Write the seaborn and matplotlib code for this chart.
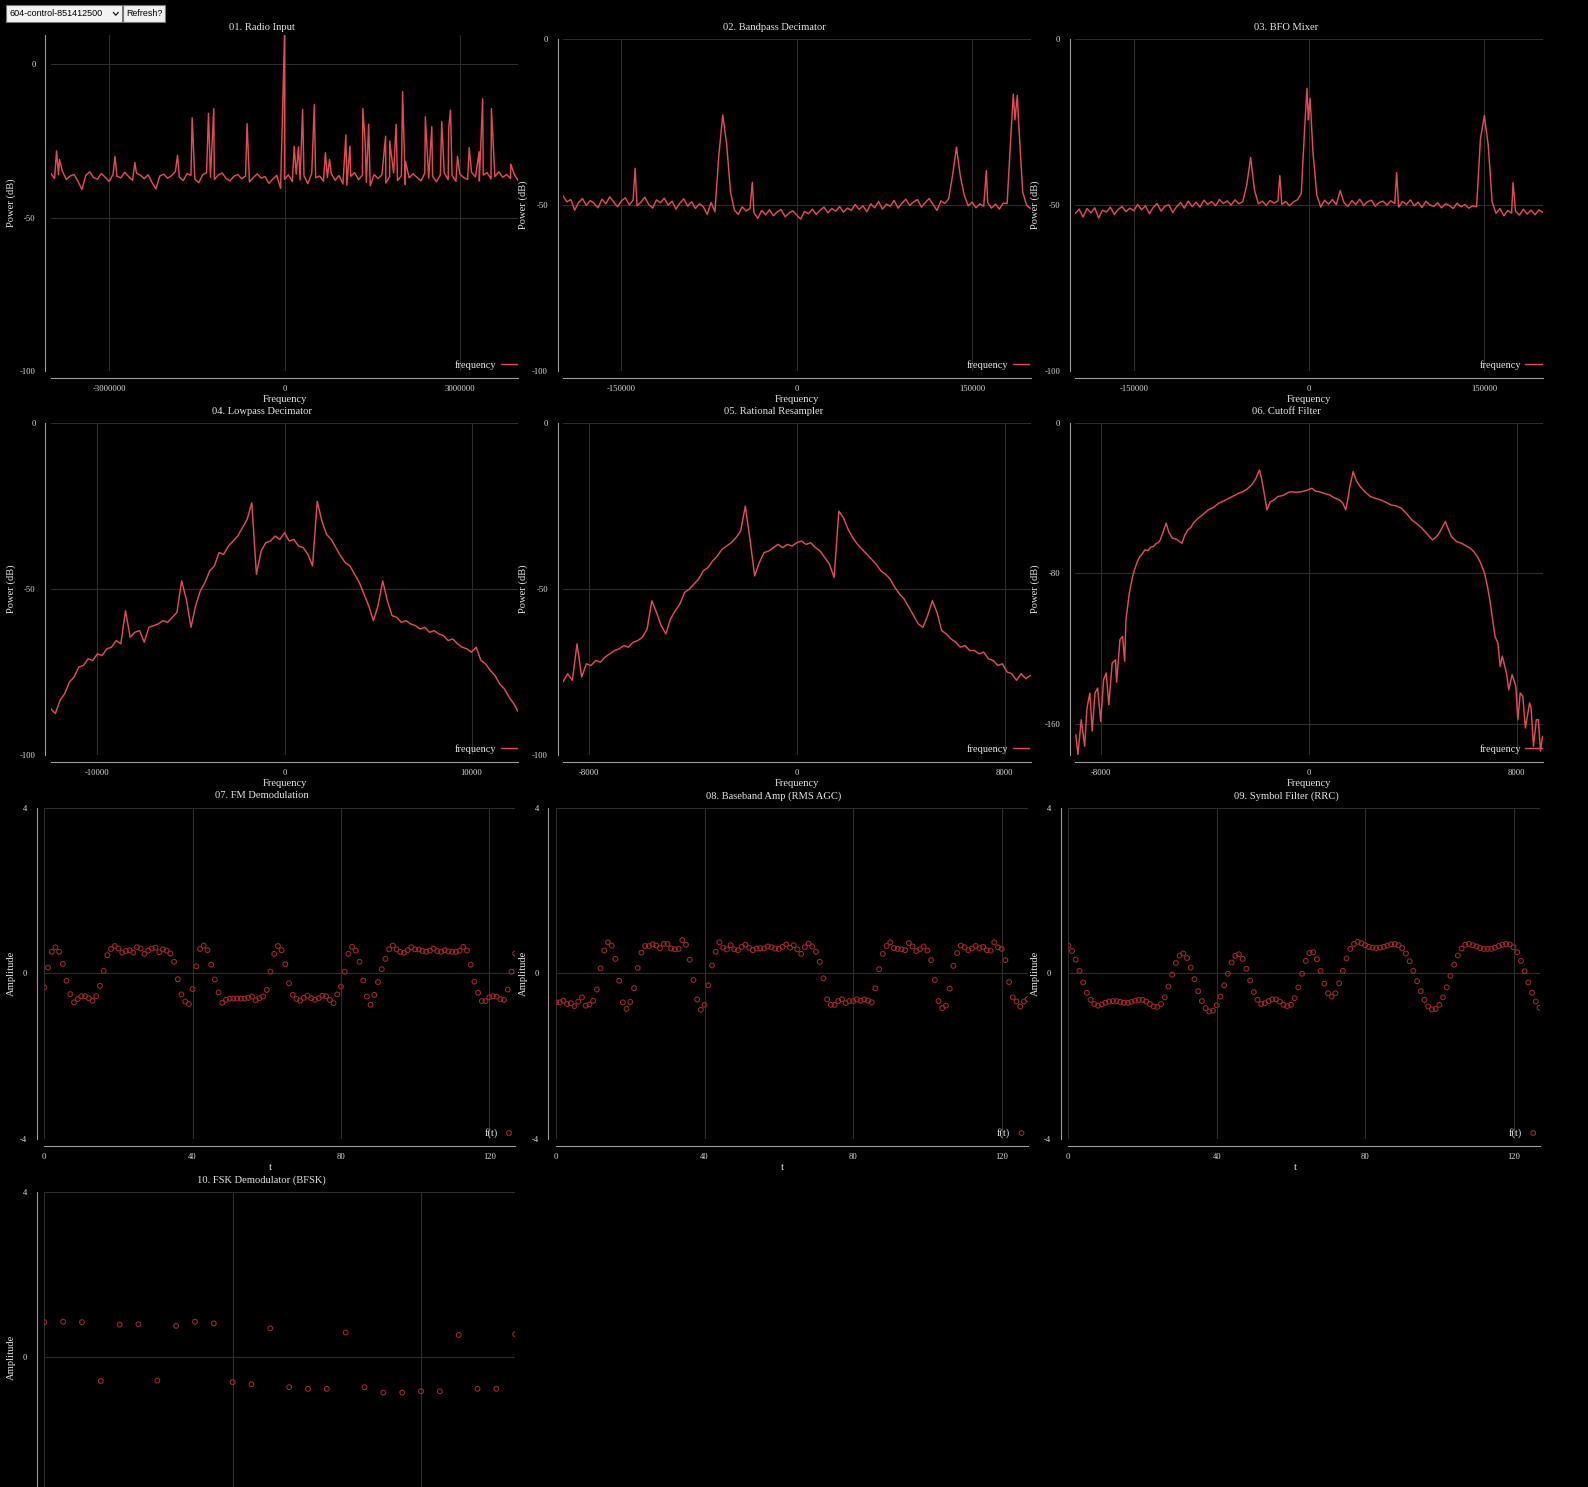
import numpy as np
import pandas as pd
import matplotlib
matplotlib.use("Agg")
import matplotlib.pyplot as plt
import seaborn as sns
from matplotlib.ticker import MultipleLocator, FuncFormatter, NullFormatter
from matplotlib.patches import Rectangle
from matplotlib.lines import Line2D

# ---------------- data ----------------
# 01. Radio Input: noise floor on an even grid over +-4 MHz, plus the narrow carriers
radio_floor = [
    -35.5, -37.2, -36.0, -34.8, -37.5, -36.4, -35.9, -38.1, -40.8, -36.2,
    -35.0, -36.9, -37.4, -35.6, -36.8, -38.2, -35.9, -36.5, -37.0, -35.2,
    -36.6, -37.8, -35.4, -36.1, -37.3, -36.0, -38.5, -40.6, -36.4, -35.8,
    -37.1, -36.3, -34.9, -36.7, -37.9, -35.6, -36.2, -37.4, -38.6, -36.0,
    -35.3, -36.8, -37.5, -36.1, -35.4, -37.2, -38.0, -36.5, -35.9, -37.3,
    -36.4, -38.3, -36.9, -35.7, -37.1, -36.6, -38.8, -37.4, -36.2, -40.4,
    -37.5, -36.0, -38.2, -35.8, -37.7, -36.3, -38.9, -35.5, -37.0, -36.4,
    -38.1, -36.9, -35.6, -37.8, -36.2, -39.0, -39.4, -36.5, -35.3, -37.6,
    -36.1, -38.4, -39.6, -35.9, -37.2, -36.0, -38.7, -36.6, -35.4, -37.9,
    -36.3, -39.2, -37.0, -35.7, -36.8, -38.0, -35.5, -37.1, -36.4, -38.3,
    -36.0, -35.4, -37.6, -36.2, -38.1, -35.8, -36.9, -37.5, -35.2, -36.7,
    -38.0, -36.1, -35.3, -37.4, -36.6, -35.0, -36.8, -35.9, -37.2, -36.0, -38.0,
]
radio_spike_freq = [
    -3.90e6, -3.85e6, -2.90e6, -2.56e6, -1.83e6, -1.58e6, -1.30e6, -1.21e6, -0.64e6, 0.0,
    0.166e6, 0.24e6, 0.31e6, 0.51e6, 0.70e6, 0.77e6, 1.05e6, 1.12e6, 1.34e6, 1.38e6,
    1.44e6, 1.73e6, 1.80e6, 1.91e6, 2.02e6, 2.07e6, 2.41e6, 2.52e6, 2.69e6, 2.81e6,
    2.84e6, 2.96e6, 3.16e6, 3.33e6, 3.39e6, 3.54e6, 3.87e6,
]
radio_spike_db = [
    -28.2, -31.0, -30.0, -32.0, -29.6, -17.4, -16.0, -14.4, -19.3, 9.6,
    -26.7, -26.9, -14.7, -13.1, -28.8, -31.0, -23.0, -26.7, -14.4, -25.2,
    -19.5, -23.4, -25.0, -19.5, -8.9, -31.7, -17.1, -20.3, -18.7, -20.7,
    -14.9, -30.0, -27.2, -28.5, -11.2, -14.4, -32.5,
]

# 02. Bandpass Decimator (+-200 kHz)
bandpass_floor = [
    -47.2, -49.0, -48.3, -51.5, -49.2, -48.0, -50.1, -48.6, -49.5, -50.8,
    -48.2, -49.6, -47.5, -49.0, -50.5, -48.7, -47.8, -49.9, -48.5, -50.2,
    -49.1, -47.6, -49.8, -50.9, -48.4, -49.3, -47.9, -50.0, -48.8, -51.2,
    -49.4, -48.1, -50.3, -49.0, -51.0, -49.6, -50.4, -52.8, -49.2, -52.0,
    -35.0, -22.8, -31.5, -46.0, -51.5, -52.8, -50.5, -51.8, -51.0, -52.2,
    -54.0, -51.6, -52.9, -51.4, -53.2, -52.0, -51.3, -53.5, -52.4, -51.7,
    -53.0, -54.2, -51.9, -52.6, -51.2, -52.8, -51.5, -50.6, -52.3, -51.0,
    -51.8, -50.4, -52.1, -50.9, -51.6, -49.8, -51.3, -50.2, -52.0, -49.6,
    -50.8, -48.9, -51.2, -49.7, -50.3, -48.6, -50.9, -49.4, -48.2, -50.1,
    -49.0, -48.3, -50.6, -49.2, -48.0, -49.8, -51.6, -48.7, -49.5, -48.1,
    -41.0, -32.5, -41.4, -47.0, -50.2, -49.1, -50.8, -49.6, -50.3, -49.2,
    -50.9, -49.7, -51.2, -49.4, -49.5, -28.3, -24.3, -26.0, -46.0, -50.0, -51.0,
]
bandpass_spike_freq = [-138300, -38000, 162200, 185300, 188700]
bandpass_spike_db = [-38.9, -43.1, -39.6, -16.5, -16.9]

# 03. BFO Mixer (+-200 kHz)
bfo_floor = [
    -52.5, -51.2, -53.6, -51.0, -52.3, -50.8, -53.9, -51.5, -52.1, -50.6,
    -52.8, -51.3, -50.4, -52.0, -50.9, -51.7, -49.8, -51.4, -50.2, -52.6,
    -50.7, -49.5, -51.8, -50.3, -49.9, -52.2, -50.5, -49.2, -50.9, -48.8,
    -50.4, -49.1, -50.6, -48.5, -49.8, -48.9, -50.2, -48.3, -49.5, -48.7,
    -50.0, -48.4, -49.6, -48.9, -44.0, -35.6, -45.5, -49.6, -48.8, -50.1,
    -48.6, -49.4, -48.7, -49.8, -48.9, -50.2, -49.0, -48.4, -46.5, -24.0,
    -21.0, -34.0, -47.0, -50.6, -48.5, -49.7, -48.3, -49.9, -45.6, -49.3,
    -50.4, -48.6, -49.8, -48.2, -50.1, -49.0, -48.5, -50.3, -49.2, -48.8,
    -50.0, -48.7, -49.5, -50.6, -48.9, -49.8, -48.4, -50.2, -49.1, -50.7,
    -48.8, -49.9, -50.4, -49.3, -50.8, -49.6, -50.1, -51.0, -49.4, -50.5,
    -49.8, -50.9, -50.2, -50.5, -30.0, -23.0, -32.0, -49.0, -52.5, -51.0,
    -53.2, -51.6, -52.4, -51.8, -53.0, -51.2, -52.7, -51.5, -52.9, -51.4, -52.2,
]
bfo_spike_freq = [-25000, -1800, -600, 900, 74900, 174500]
bfo_spike_db = [-41.1, -14.8, -24.3, -17.8, -40.2, -43.2]

# 04. Lowpass Decimator (+-12.5 kHz)
lowpass_db = [
    -86.0, -87.5, -83.5, -81.5, -78.0, -76.5, -73.5, -73.0, -71.0, -71.5,
    -69.5, -70.0, -68.0, -67.5, -65.5, -66.5, -56.5, -64.5, -63.0, -62.5,
    -66.0, -61.5, -61.0, -60.5, -59.5, -60.0, -58.5, -57.0, -47.5, -53.0,
    -61.5, -55.0, -50.5, -48.0, -44.5, -43.0, -39.0, -39.5, -37.0, -35.5,
    -34.0, -31.5, -29.0, -24.0, -45.5, -38.5, -36.0, -35.5, -34.0, -35.0,
    -33.0, -35.5, -35.0, -37.0, -37.5, -39.5, -43.0, -23.5, -29.5, -33.5,
    -35.0, -37.5, -40.0, -42.0, -43.0, -45.5, -48.0, -51.5, -55.0, -59.5,
    -55.0, -47.5, -53.5, -58.0, -58.5, -60.0, -59.5, -60.5, -61.0, -62.0,
    -61.5, -63.0, -62.5, -63.5, -64.0, -65.5, -65.0, -66.5, -67.5, -68.0,
    -69.0, -67.5, -71.5, -72.5, -74.5, -76.0, -78.5, -80.0, -82.5, -84.5,
    -87.0,
]

# 05. Rational Resampler (+-9 kHz)
resampler_db = [
    -78.0, -75.5, -77.5, -66.5, -76.5, -72.5, -73.0, -71.5, -72.0, -70.5,
    -69.5, -68.5, -68.0, -67.0, -67.5, -66.0, -65.5, -64.5, -62.0, -53.5,
    -57.0, -61.0, -63.5, -59.0, -56.5, -54.5, -51.0, -50.0, -48.5, -47.0,
    -44.5, -43.5, -41.5, -40.0, -38.0, -37.0, -36.0, -34.5, -32.5, -25.0,
    -35.0, -46.0, -42.0, -39.0, -38.5, -37.5, -36.5, -37.5, -36.5, -37.0,
    -36.0, -35.5, -36.5, -36.0, -37.5, -38.5, -40.5, -42.5, -46.5, -26.5,
    -28.5, -32.0, -34.5, -36.5, -38.0, -39.5, -41.0, -42.5, -44.5, -45.5,
    -47.0, -49.5, -51.5, -53.0, -55.5, -58.0, -60.5, -61.5, -58.0, -53.5,
    -57.0, -62.5, -63.5, -65.0, -66.0, -67.5, -67.0, -68.5, -68.5, -69.5,
    -69.0, -71.0, -71.5, -73.0, -72.5, -75.0, -75.5, -77.5, -75.5, -77.0,
    -76.0,
]

# 06. Cutoff Filter (uneven frequency points, Hz)
cutoff_freq = [
    -8980, -8900, -8770, -8640, -8550, -8440, -8350, -8240, -8140, -8020,
    -7910, -7810, -7710, -7580, -7450, -7410, -7280, -7180, -7100, -7050,
    -6920, -6800, -6720, -6620, -6520, -6420, -6320, -6200, -6100, -5990,
    -5880, -5800, -5730, -5620, -5500, -5400, -5260, -5100, -4890, -4800,
    -4670, -4550, -4450, -4270, -4100, -3880, -3700, -3480, -3300, -3080,
    -2900, -2700, -2550, -2400, -2210, -2050, -1910, -1820, -1750, -1620,
    -1500, -1350, -1200, -1050, -950, -820, -690, -500, -290, -100,
    110, 250, 380, 550, 780, 950, 1170, 1300, 1410, 1500,
    1570, 1700, 1820, 1970, 2150, 2360, 2550, 2760, 2950, 3160,
    3350, 3550, 3750, 3950, 4150, 4350, 4550, 4750, 4900, 5010,
    5250, 5350, 5480, 5680, 5880, 6080, 6200, 6340, 6480, 6610,
    6750, 6870, 6970, 7070, 7160, 7270, 7360, 7440, 7600, 7690,
    7820, 7960, 8040, 8130, 8230, 8330, 8490, 8550, 8640, 8750,
    8830, 8910, 8990,
]
cutoff_db = [
    -165.9, -176.5, -157.9, -172.0, -151.7, -143.7, -164.0, -143.7, -141.0, -158.8,
    -136.6, -133.0, -150.0, -127.7, -126.0, -138.0, -115.3, -113.5, -126.8, -104.7,
    -90.5, -82.0, -78.0, -74.0, -71.0, -69.5, -67.4, -67.8, -66.0, -65.6,
    -64.0, -63.5, -62.1, -58.0, -53.2, -58.0, -61.2, -61.8, -63.9, -60.0,
    -56.8, -55.5, -53.0, -50.6, -48.8, -46.1, -45.0, -42.6, -41.5, -39.9,
    -38.6, -37.2, -36.4, -35.2, -32.8, -29.5, -24.8, -30.0, -35.5, -46.1,
    -42.0, -40.8, -39.0, -38.6, -38.1, -37.0, -36.4, -36.8, -36.4, -35.8,
    -34.6, -36.2, -36.4, -37.2, -38.1, -39.5, -40.8, -42.5, -46.1, -40.0,
    -33.7, -25.7, -30.5, -33.7, -36.5, -39.0, -40.0, -40.8, -42.0, -43.5,
    -44.0, -45.2, -48.0, -51.4, -53.5, -55.9, -59.0, -62.1, -60.5, -58.5,
    -52.3, -56.0, -60.3, -63.0, -64.0, -65.6, -66.5, -68.3, -71.0, -74.5,
    -79.5, -86.9, -95.0, -104.7, -113.5, -117.0, -129.5, -124.0, -133.0, -141.9,
    -133.9, -140.0, -157.9, -143.7, -145.4, -162.3, -149.0, -151.7, -172.0, -157.9,
    -157.9, -174.7, -166.7,
]

# 07-09: 128 samples each, 10: one value per symbol
fm_demod = [
    -0.34, 0.14, 0.52, 0.63, 0.52, 0.23, -0.18, -0.50, -0.70, -0.62,
    -0.55, -0.55, -0.60, -0.66, -0.55, -0.30, 0.06, 0.44, 0.59, 0.66,
    0.60, 0.50, 0.54, 0.56, 0.50, 0.63, 0.60, 0.47, 0.55, 0.60,
    0.62, 0.51, 0.58, 0.55, 0.48, 0.28, -0.14, -0.51, -0.68, -0.74,
    -0.38, 0.17, 0.59, 0.67, 0.56, 0.21, -0.15, -0.46, -0.71, -0.64,
    -0.61, -0.61, -0.61, -0.61, -0.61, -0.59, -0.56, -0.65, -0.60, -0.56,
    -0.40, 0.04, 0.47, 0.66, 0.56, 0.22, -0.24, -0.52, -0.62, -0.66,
    -0.59, -0.54, -0.60, -0.64, -0.60, -0.54, -0.55, -0.64, -0.72, -0.51,
    -0.32, 0.04, 0.47, 0.64, 0.55, 0.28, -0.17, -0.56, -0.76, -0.52,
    -0.21, 0.10, 0.35, 0.58, 0.67, 0.58, 0.52, 0.50, 0.56, 0.63,
    0.58, 0.58, 0.54, 0.52, 0.55, 0.60, 0.54, 0.52, 0.56, 0.53,
    0.52, 0.52, 0.55, 0.64, 0.55, 0.21, -0.20, -0.47, -0.67, -0.67,
    -0.58, -0.55, -0.56, -0.62, -0.64, -0.39, 0.04, 0.48,
]
baseband_amp = [
    -0.70, -0.70, -0.66, -0.74, -0.72, -0.79, -0.68, -0.58, -0.78, -0.75,
    -0.66, -0.39, 0.12, 0.55, 0.75, 0.67, 0.35, -0.18, -0.70, -0.86,
    -0.69, -0.36, 0.13, 0.50, 0.66, 0.66, 0.70, 0.67, 0.61, 0.71,
    0.71, 0.60, 0.58, 0.59, 0.80, 0.69, 0.33, -0.16, -0.63, -0.88,
    -0.76, -0.29, 0.19, 0.52, 0.75, 0.62, 0.58, 0.68, 0.58, 0.56,
    0.64, 0.69, 0.62, 0.56, 0.60, 0.61, 0.60, 0.65, 0.63, 0.60,
    0.59, 0.64, 0.70, 0.62, 0.68, 0.58, 0.47, 0.63, 0.72, 0.65,
    0.52, 0.28, -0.12, -0.63, -0.76, -0.76, -0.67, -0.63, -0.72, -0.67,
    -0.67, -0.63, -0.66, -0.63, -0.66, -0.70, -0.36, 0.10, 0.47, 0.66,
    0.75, 0.61, 0.59, 0.58, 0.56, 0.73, 0.65, 0.54, 0.58, 0.65,
    0.55, 0.32, -0.16, -0.67, -0.84, -0.78, -0.37, 0.18, 0.49, 0.67,
    0.63, 0.56, 0.60, 0.66, 0.61, 0.64, 0.56, 0.55, 0.75, 0.63,
    0.59, 0.32, -0.21, -0.58, -0.68, -0.80, -0.68, -0.62,
]
symbol_filter = [
    0.67, 0.54, 0.33, 0.06, -0.22, -0.47, -0.64, -0.74, -0.78, -0.75,
    -0.71, -0.68, -0.67, -0.67, -0.69, -0.71, -0.71, -0.69, -0.66, -0.64,
    -0.64, -0.68, -0.74, -0.80, -0.81, -0.74, -0.58, -0.32, -0.03, 0.25,
    0.43, 0.48, 0.37, 0.14, -0.14, -0.43, -0.67, -0.84, -0.92, -0.90,
    -0.77, -0.56, -0.29, -0.01, 0.26, 0.42, 0.46, 0.35, 0.11, -0.17,
    -0.45, -0.64, -0.74, -0.72, -0.67, -0.63, -0.63, -0.68, -0.76, -0.79,
    -0.76, -0.60, -0.34, -0.01, 0.30, 0.49, 0.51, 0.34, 0.06, -0.25,
    -0.48, -0.56, -0.48, -0.24, 0.06, 0.36, 0.59, 0.71, 0.76, 0.73,
    0.68, 0.64, 0.62, 0.61, 0.62, 0.64, 0.67, 0.70, 0.71, 0.68,
    0.61, 0.48, 0.29, 0.06, -0.19, -0.43, -0.64, -0.80, -0.87, -0.86,
    -0.76, -0.58, -0.34, -0.06, 0.21, 0.43, 0.60, 0.69, 0.71, 0.68,
    0.65, 0.61, 0.59, 0.59, 0.59, 0.62, 0.66, 0.69, 0.71, 0.70,
    0.63, 0.51, 0.30, 0.05, -0.22, -0.47, -0.68, -0.83,
]
fsk_symbols = [
    0.85, 0.86, 0.85, -0.57, 0.79, 0.80, -0.56, 0.76, 0.86, 0.82,
    -0.60, -0.65, 0.70, -0.72, -0.76, -0.76, 0.60, -0.72, -0.85, -0.85,
    -0.82, -0.82, 0.54, -0.76, -0.76, 0.56,
]

# ---------------- look ----------------
W, H = 1588, 1487
LINE_RED = "#e14b55"
DOT_RED = "#a3282e"
TXT = "#e4e4e4"
TICK_TXT = "#d8d8d8"
AXIS_GREY = "#9a9a9a"
GRID = "#2d2d2d"

sns.set_theme(style="dark", rc={
    "axes.facecolor": "black",
    "figure.facecolor": "black",
    "savefig.facecolor": "black",
    "text.color": TXT,
    "axes.labelcolor": TXT,
})
plt.rcParams["font.family"] = ["Liberation Serif", "DejaVu Serif"]
plt.rcParams["axes.unicode_minus"] = False

fig = plt.figure(figsize=(W / 100, H / 100), dpi=100, facecolor="black")


def px_axes(left, top, right, bottom):
    return fig.add_axes([left / W, 1 - bottom / H, (right - left) / W, (bottom - top) / H])


int_fmt = FuncFormatter(lambda v, p: f"{int(round(v))}")
# panel 10 runs off the bottom of the page: its lowest label is not shown
upper_only_fmt = FuncFormatter(lambda v, p: f"{int(round(v))}" if v > -3 else "")


def dress(ax, left_out):
    ax.set_facecolor("black")
    for side in ("top", "right"):
        ax.spines[side].set_visible(False)
    ax.spines["left"].set_position(("outward", left_out))
    ax.spines["bottom"].set_position(("outward", 5))
    for side in ("left", "bottom"):
        ax.spines[side].set_color(AXIS_GREY)
        ax.spines[side].set_linewidth(0.8)
    ax.tick_params(which="both", direction="out", colors=AXIS_GREY, labelcolor=TICK_TXT,
                   labelsize=6.2, width=0.7, length=3)
    ax.tick_params(axis="y", which="major", pad=4)
    ax.tick_params(axis="x", which="major", pad=2)
    ax.tick_params(which="minor", length=2.5)
    ax.grid(True, which="major", color=GRID, linewidth=0.8)
    ax.grid(False, which="minor")
    ax.set_axisbelow(True)
    ax.xaxis.set_major_formatter(int_fmt)
    ax.yaxis.set_major_formatter(int_fmt)


def place_labels(ax, box, xlabel, ylabel, ylab_dx, xlab_shift=0):
    w = box[2] - box[0]
    h = box[3] - box[1]
    ax.set_xlabel(xlabel, fontsize=7.6, color=TXT)
    ax.set_ylabel(ylabel, fontsize=7.6, color=TXT)
    ax.xaxis.label.set_verticalalignment("center")
    ax.yaxis.label.set_verticalalignment("center")
    ax.xaxis.set_label_coords(0.5 + xlab_shift / w, -28 / h)
    ax.yaxis.set_label_coords(-ylab_dx / w, 0.5)


def spectrum_frame(freq, db):
    return pd.DataFrame({"freq": freq, "db": db}).sort_values("freq", kind="mergesort")


def floor_and_spikes(floor, span, spike_f, spike_db):
    grid = np.linspace(-span, span, len(floor))
    return spectrum_frame(list(grid) + list(spike_f), list(floor) + list(spike_db))


def spectrum_panel(box, title, title_xy, df, span, ylim, xmajor, xminor, ymajor, yminor):
    ax = px_axes(*box)
    sns.lineplot(data=df, x="freq", y="db", ax=ax, color=LINE_RED, linewidth=1.05,
                 estimator=None, label="frequency")
    ax.set_xlim(-span, span)
    ax.set_ylim(*ylim)
    ax.xaxis.set_major_locator(MultipleLocator(xmajor))
    ax.xaxis.set_minor_locator(MultipleLocator(xminor))
    ax.yaxis.set_major_locator(MultipleLocator(ymajor))
    if yminor:
        ax.yaxis.set_minor_locator(MultipleLocator(yminor))
    dress(ax, 3.8)
    place_labels(ax, box, "Frequency", "Power (dB)", 40)
    ax.legend(loc="lower right", frameon=False, markerfirst=False, borderaxespad=0,
              borderpad=0.1, handlelength=1.6, handletextpad=0.4, fontsize=7.5,
              labelcolor=TXT)
    fig.text(title_xy[0] / W, 1 - title_xy[1] / H, title, ha="center", va="center",
             fontsize=7.6, color=TXT)
    return ax


def time_panel(box, title, title_xy, values, xmax, xmajor, xminor, cut_off=False):
    ax = px_axes(*box)
    t = np.arange(len(values))
    sns.scatterplot(x=t, y=values, ax=ax, marker="o", s=12, label="f(t)")
    dots = ax.collections[-1]
    dots.set_facecolor("none")
    dots.set_edgecolor(DOT_RED)
    dots.set_linewidth(0.75)
    ax.set_xlim(0, xmax)
    ax.set_ylim(-4, 4)
    ax.xaxis.set_major_locator(MultipleLocator(xmajor))
    ax.xaxis.set_minor_locator(MultipleLocator(xminor))
    ax.yaxis.set_major_locator(MultipleLocator(4))
    ax.yaxis.set_minor_locator(MultipleLocator(1))
    dress(ax, 5.5)
    fig.text(title_xy[0] / W, 1 - title_xy[1] / H, title, ha="center", va="center",
             fontsize=7.6, color=TXT)
    if cut_off:
        # the page ends before this panel's x axis and legend
        ax.set_ylabel("Amplitude", fontsize=7.6, color=TXT)
        ax.yaxis.label.set_verticalalignment("center")
        ax.yaxis.set_label_coords(-33 / (box[2] - box[0]), 0.5)
        ax.yaxis.set_major_formatter(upper_only_fmt)
        ax.xaxis.set_major_formatter(NullFormatter())
        ax.set_xlabel("")
        ax.get_legend().remove()
        return ax
    place_labels(ax, box, "t", "Amplitude", 33, xlab_shift=-9)
    ax.legend(loc="lower right", frameon=False, markerfirst=False, borderaxespad=0,
              borderpad=0.1, handlelength=1.0, handletextpad=0.6, fontsize=7.5,
              labelcolor=TXT, scatterpoints=1)
    return ax


# ---------------- row 1 ----------------
spectrum_panel((50.7, 35.0, 518.3, 371.0), "01. Radio Input", (261.7, 28),
               floor_and_spikes(radio_floor, 4e6, radio_spike_freq, radio_spike_db),
               4e6, (-100, 9.6), 3e6, 1e6, 50, None)
spectrum_panel((563.0, 39.3, 1030.5, 371.0), "02. Bandpass Decimator", (774, 28),
               floor_and_spikes(bandpass_floor, 2e5, bandpass_spike_freq, bandpass_spike_db),
               2e5, (-100, 0), 150000, 75000, 50, 10)
spectrum_panel((1075.3, 39.3, 1542.8, 371.0), "03. BFO Mixer", (1286, 28),
               floor_and_spikes(bfo_floor, 2e5, bfo_spike_freq, bfo_spike_db),
               2e5, (-100, 0), 150000, 75000, 50, 10)

# ---------------- row 2 ----------------
spectrum_panel((50.7, 423.3, 518.3, 755.0), "04. Lowpass Decimator", (261.7, 412),
               spectrum_frame(np.linspace(-12500, 12500, len(lowpass_db)), lowpass_db),
               12500, (-100, 0), 10000, 2000, 50, 10)
spectrum_panel((563.0, 423.3, 1030.5, 755.0), "05. Rational Resampler", (774, 412),
               spectrum_frame(np.linspace(-9000, 9000, len(resampler_db)), resampler_db),
               9000, (-100, 0), 8000, 4000, 50, 10)
spectrum_panel((1075.3, 423.3, 1542.8, 755.0), "06. Cutoff Filter", (1286, 412),
               spectrum_frame(cutoff_freq, cutoff_db),
               9000, (-176.7, 0), 8000, 4000, 80, 40)

# ---------------- row 3 ----------------
time_panel((44.3, 807.7, 515.2, 1139.0), "07. FM Demodulation", (261.7, 796),
           fm_demod, 127, 40, 10)
time_panel((556.0, 807.7, 1027.7, 1139.0), "08. Baseband Amp (RMS AGC)", (774, 796),
           baseband_amp, 127, 40, 10)
time_panel((1068.3, 807.7, 1539.5, 1139.0), "09. Symbol Filter (RRC)", (1286, 796),
           symbol_filter, 127, 40, 10)

# ---------------- row 4 ----------------
time_panel((44.3, 1191.7, 515.2, 1523.0), "10. FSK Demodulator (BFSK)", (261.7, 1180),
           fsk_symbols, 25, 10, 2, cut_off=True)

# ---------------- page controls (select + button) ----------------
def fx(x):
    return x / W


def fy(y):
    return 1 - y / H


fig.patches.append(Rectangle((fx(6.3), fy(22.3)), fx(116.0), 17.0 / H, transform=fig.transFigure,
                             facecolor="#f3f3f3", edgecolor="#767676", linewidth=0.8))
fig.patches.append(Rectangle((fx(123.3), fy(22.3)), fx(42.0), 17.0 / H, transform=fig.transFigure,
                             facecolor="#efefef", edgecolor="#767676", linewidth=0.8))
fig.text(fx(10), fy(13.8), "604-control-851412500", ha="left", va="center",
         fontsize=6.5, color="black", family="Liberation Sans")
fig.text(fx(144.3), fy(13.8), "Refresh?", ha="center", va="center",
         fontsize=6.4, color="black", family="Liberation Sans")
fig.lines.append(Line2D([fx(113.3), fx(115.8), fx(118.3)], [fy(12.3), fy(15.3), fy(12.3)],
                        transform=fig.transFigure, color="black", linewidth=0.8))

fig.savefig("out.png", dpi=100, facecolor="black")
